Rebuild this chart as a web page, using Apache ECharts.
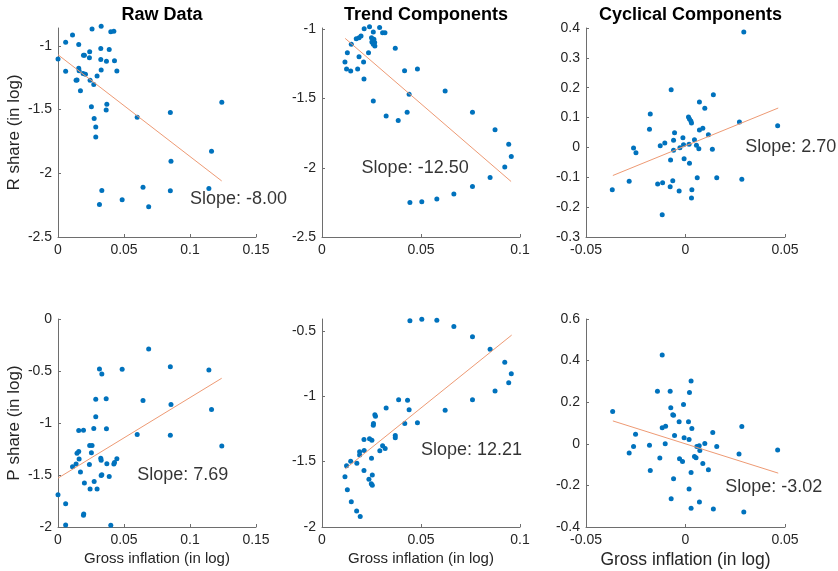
<!DOCTYPE html>
<html><head><meta charset="utf-8">
<script src="https://cdn.jsdelivr.net/npm/echarts@6/dist/echarts.min.js"></script>
<style>html,body{margin:0;padding:0;background:#fff}#c{width:838px;height:571px}</style>
</head><body><div id="c"></div>
<script>
// ---------- DATA ----------
const titles = ['Raw Data', 'Trend Components', 'Cyclical Components'];
const yNames = ['R share (in log)', 'P share (in log)'];
const xName = 'Gross inflation (in log)';

const rawR = [[0,-1.104],[0.0058,-0.971],[0.0058,-1.20],[0.011,-0.914],[0.0157,-0.99],[0.0157,-1.175],[0.016,-1.196],[0.0144,-1.269],[0.0137,-1.27],[0.017,-1.352],[0.0193,-1.073],[0.020,-1.073],[0.019,-1.217],[0.0208,-1.222],[0.024,-1.047],[0.0238,-1.094],[0.0243,-1.27],[0.0258,-0.867],[0.0253,-1.477],[0.0271,-1.303],[0.0274,-1.571],[0.0286,-1.637],[0.0286,-1.715],[0.0296,-1.237],[0.0327,-0.846],[0.0324,-1.021],[0.0324,-1.107],[0.0327,-1.19],[0.0332,-2.135],[0.0314,-2.244],[0.0367,-1.12],[0.037,-1.459],[0.0365,-1.504],[0.0388,-1.029],[0.040,-0.89],[0.0423,-0.885],[0.0428,-1.117],[0.0446,-1.198],[0.0486,-2.208],[0.060,-1.561],[0.0644,-2.109],[0.0687,-2.263],[0.0851,-1.524],[0.0856,-1.905],[0.0851,-2.137],[0.1163,-1.827],[0.1143,-2.119],[0.1241,-1.443]];

const trendR = [[0.0116,-1.236],[0.0124,-1.286],[0.0128,-1.168],[0.0145,-1.300],[0.0148,-1.108],[0.0173,-1.067],[0.0180,-1.286],[0.0187,-1.060],[0.0187,-1.197],[0.0197,-1.048],[0.0210,-1.236],[0.0212,-1.358],[0.0213,-0.995],[0.0235,-1.168],[0.0240,-0.981],[0.0250,-1.060],[0.0262,-1.072],[0.0252,-1.091],[0.0266,-1.094],[0.0259,-1.108],[0.0267,-1.120],[0.0259,-1.019],[0.0259,-1.517],[0.0291,-0.986],[0.0306,-1.024],[0.0318,-1.024],[0.0324,-1.625],[0.0370,-1.137],[0.0385,-1.659],[0.0417,-1.298],[0.0430,-1.599],[0.0440,-1.469],[0.0444,-2.250],[0.0482,-1.286],[0.0504,-2.245],[0.0580,-2.226],[0.0622,-1.445],[0.0666,-2.190],[0.0760,-1.599],[0.0760,-2.135],[0.0849,-2.070],[0.0874,-1.726],[0.0923,-1.995],[0.0943,-1.829],[0.0956,-1.918]];

const cycR = [[-0.0368,-0.1415],[-0.0283,-0.1136],[-0.0261,-0.0019],[-0.0249,-0.0175],[-0.0181,0.0606],[-0.0177,0.112],[-0.0140,-0.1225],[-0.0127,0.0059],[-0.0115,-0.118],[-0.0117,-0.2252],[-0.0104,0.0148],[-0.0077,-0.1314],[-0.0075,-0.0421],[-0.0072,0.1935],[-0.0064,-0.1113],[-0.0060,0.0238],[-0.0060,-0.0097],[-0.0055,0.0494],[-0.0032,-0.146],[-0.0028,-0.0008],[-0.0013,0.0327],[-0.0010,0.0092],[-0.0007,-0.0376],[0.0015,0.1019],[0.0020,0.0952],[0.0027,0.0885],[0.0030,0.0818],[0.0018,0.0103],[0.0020,-0.0533],[0.0030,-0.1694],[0.0032,-0.1415],[0.0045,0.026],[0.0055,0.007],[0.0059,-0.1013],[0.0067,-0.0042],[0.0070,0.0584],[0.0070,0.1521],[0.0087,0.064],[0.0097,0.1309],[0.0115,0.0427],[0.0135,-0.0064],[0.0140,0.1767],[0.0157,-0.1013],[0.0271,0.0852],[0.0283,-0.1069],[0.0293,0.3866],[0.0463,0.0729]];

const rawP = [[0,-1.69],[0.0058,-1.776],[0.0058,-1.98],[0.011,-1.42],[0.0137,-1.395],[0.0144,-1.29],[0.0157,-1.274],[0.0157,-1.072],[0.016,-1.347],[0.017,-1.472],[0.0193,-1.069],[0.0193,-1.888],[0.0195,-1.875],[0.020,-1.578],[0.024,-1.216],[0.0238,-1.398],[0.0243,-1.635],[0.0258,-1.216],[0.0253,-1.286],[0.0271,-1.053],[0.0274,-1.562],[0.0286,-0.771],[0.0286,-0.941],[0.0296,-1.635],[0.0314,-0.48],[0.0332,-0.528],[0.0324,-1.34],[0.0327,-1.357],[0.0327,-1.504],[0.0332,-1.498],[0.0365,-0.768],[0.0367,-1.056],[0.037,-1.392],[0.0388,-1.514],[0.040,-1.984],[0.0423,-1.395],[0.0428,-1.379],[0.0446,-1.344],[0.0486,-0.483],[0.060,-1.11],[0.0644,-0.784],[0.0687,-0.288],[0.0851,-0.458],[0.0856,-0.822],[0.0851,-1.117],[0.1143,-0.49],[0.1163,-0.87],[0.1241,-1.222]];

const trendP = [[0.0116,-1.615],[0.0124,-1.531],[0.0128,-1.716],[0.0145,-1.498],[0.0148,-1.807],[0.0176,-1.513],[0.0175,-1.878],[0.0193,-1.919],[0.0190,-1.425],[0.0190,-1.450],[0.0212,-1.331],[0.0213,-1.415],[0.0212,-1.569],[0.0237,-1.635],[0.0240,-1.326],[0.0252,-1.336],[0.0250,-1.475],[0.0254,-1.602],[0.0249,-1.670],[0.0254,-1.680],[0.0260,-1.209],[0.0259,-1.222],[0.0267,-1.141],[0.0270,-1.154],[0.0292,-1.417],[0.0306,-1.379],[0.0319,-1.399],[0.0324,-1.090],[0.0370,-1.301],[0.0370,-1.318],[0.0387,-1.027],[0.0418,-1.209],[0.0432,-1.032],[0.0440,-1.103],[0.0444,-0.424],[0.0482,-1.204],[0.0504,-0.411],[0.0580,-0.419],[0.0622,-1.108],[0.0666,-0.467],[0.0760,-0.546],[0.0760,-1.027],[0.0849,-0.642],[0.0874,-0.961],[0.0923,-0.741],[0.0943,-0.898],[0.0956,-0.829]];

const cycP = [[-0.0366,0.1552],[-0.0283,-0.0448],[-0.0261,-0.0128],[-0.0251,0.0464],[-0.0181,-0.0064],[-0.0177,-0.128],[-0.0141,0.2528],[-0.0129,-0.0688],[-0.0117,0.4272],[-0.0117,0.0768],[-0.0100,0.0848],[-0.0102,0.0],[-0.0077,0.2528],[-0.0074,0.1728],[-0.0072,-0.264],[-0.0064,0.1392],[-0.0060,0.1376],[-0.0060,-0.168],[-0.0055,0.04],[-0.0032,0.1056],[-0.0030,-0.072],[-0.0015,-0.0848],[-0.0010,0.1888],[-0.0007,0.0288],[0.0015,0.1056],[0.0018,0.0208],[0.0018,-0.2176],[0.0020,0.2464],[0.0028,0.3024],[0.0028,-0.1376],[0.0028,-0.3104],[0.0032,0.0736],[0.0045,-0.0608],[0.0053,-0.0672],[0.0057,-0.0128],[0.0069,-0.0096],[0.0072,-0.032],[0.0070,-0.28],[0.0087,-0.0944],[0.0097,0.0016],[0.0115,-0.1248],[0.0137,0.0544],[0.0140,-0.3136],[0.0157,-0.0128],[0.0269,-0.0496],[0.0283,0.0832],[0.0293,-0.328],[0.0463,-0.0304]];

// fitted lines (endpoints)
const fitRawR   = [[0,-1.07],[0.124,-2.06]];
const fitTrendR = [[0.0117,-1.065],[0.0955,-2.099]];
const fitCycR   = [[-0.0365,-0.094],[0.0466,0.132]];
const fitRawP   = [[0,-1.53],[0.124,-0.57]];
const fitTrendP = [[0.0117,-1.556],[0.0958,-0.533]];
const fitCycP   = [[-0.0365,0.11],[0.0466,-0.141]];

const slopeTexts = ['Slope: -8.00','Slope: -12.50','Slope: 2.70','Slope: 7.69','Slope: 12.21','Slope: -3.02'];

// tick values
const xTicksRaw = [0, 0.05, 0.1, 0.15];
const xTicksTrend = [0, 0.05, 0.1];
const xTicksCyc = [-0.05, 0, 0.05];
const yTicksRawR = [-2.5, -2, -1.5, -1];
const yTicksTrendR = [-2.5, -2, -1.5, -1];
const yTicksCycR = [-0.3, -0.2, -0.1, 0, 0.1, 0.2, 0.3, 0.4];
const yTicksRawP = [-2, -1.5, -1, -0.5, 0];
const yTicksTrendP = [-2, -1.5, -1, -0.5];
const yTicksCycP = [-0.4, -0.2, 0, 0.2, 0.4, 0.6];

// ---------- LAYOUT ----------
const panels = [
  {pts: rawR, fit: fitRawR, xt: xTicksRaw, yt: yTicksRawR, xr:[0,0.15], yr:[-2.5,-0.86], grid:{left:58,top:28,width:198,height:209}, anchor:[0.1,-2.2], title: titles[0], yName: yNames[0]},
  {pts: trendR, fit: fitTrendR, xt: xTicksTrend, yt: yTicksTrendR, xr:[0,0.1], yr:[-2.5,-0.99], grid:{left:322,top:28,width:198,height:209}, anchor:[0.02,-2.0], title: titles[1]},
  {pts: cycR, fit: fitCycR, xt: xTicksCyc, yt: yTicksCycR, xr:[-0.05,0.05], yr:[-0.3,0.4], grid:{left:586,top:28,width:199,height:209}, anchor:[0.03,0.0], title: titles[2]},
  {pts: rawP, fit: fitRawP, xt: xTicksRaw, yt: yTicksRawP, xr:[0,0.15], yr:[-2,0], grid:{left:58,top:319,width:198,height:208}, anchor:[0.06,-1.5], yName: yNames[1], xName: xName, xFont: 15},
  {pts: trendP, fit: fitTrendP, xt: xTicksTrend, yt: yTicksTrendP, xr:[0,0.1], yr:[-2,-0.41], grid:{left:322,top:319,width:198,height:208}, anchor:[0.05,-1.41], xName: xName, xFont: 15},
  {pts: cycP, fit: fitCycP, xt: xTicksCyc, yt: yTicksCycP, xr:[-0.05,0.05], yr:[-0.4,0.6], grid:{left:586,top:319,width:199,height:208}, anchor:[0.02,-0.21], xName: xName, xFont: 17.5}
];

const FONT = '"Liberation Sans", Arial, Helvetica, sans-serif';
const axisColor = '#6e6e6e';
const txtColor = '#262626';

const option = {
  animation: false,
  backgroundColor: '#fff',
  textStyle: {fontFamily: FONT},
  title: [], grid: [], xAxis: [], yAxis: [], series: []
};

panels.forEach((p, i) => {
  option.grid.push(p.grid);
  if (p.title) {
    option.title.push({
      text: p.title, left: p.grid.left + p.grid.width / 2, top: 1, textAlign: 'center',
      textStyle: {fontFamily: FONT, fontSize: 18, fontWeight: 'bold', color: '#000'}
    });
  }
  option.xAxis.push({
    type: 'value', gridIndex: i, min: p.xr[0], max: p.xr[1],
    name: p.xName || '', nameLocation: 'middle', nameGap: 24,
    nameTextStyle: {fontFamily: FONT, fontSize: p.xFont || 15, color: txtColor},
    axisLine: {show: true, onZero: false, lineStyle: {color: axisColor, width: 1}},
    axisTick: {show: true, inside: true, length: 3, customValues: p.xt, lineStyle: {color: axisColor}},
    axisLabel: {customValues: p.xt, margin: 6, fontFamily: FONT, fontSize: 14, color: txtColor},
    splitLine: {show: false}
  });
  option.yAxis.push({
    type: 'value', gridIndex: i, min: p.yr[0], max: p.yr[1],
    name: p.yName || '', nameLocation: 'middle', nameGap: 35,
    nameTextStyle: {fontFamily: FONT, fontSize: 17, color: txtColor},
    axisLine: {show: true, onZero: false, lineStyle: {color: axisColor, width: 1}},
    axisTick: {show: true, inside: true, length: 3, customValues: p.yt, lineStyle: {color: axisColor}},
    axisLabel: {customValues: p.yt, margin: 6, fontFamily: FONT, fontSize: 14, color: txtColor},
    splitLine: {show: false}
  });
  option.series.push({
    type: 'scatter', xAxisIndex: i, yAxisIndex: i, data: p.pts, symbolSize: 5,
    clip: false, itemStyle: {color: '#0072BD', opacity: 1}, z: 2
  });
  option.series.push({
    type: 'line', xAxisIndex: i, yAxisIndex: i, data: p.fit, showSymbol: false, symbol: 'none',
    lineStyle: {color: '#EE9A74', width: 1}, z: 3, silent: true
  });
  option.series.push({
    type: 'scatter', xAxisIndex: i, yAxisIndex: i, data: [p.anchor], symbolSize: 0, silent: true, clip: false,
    label: {show: true, position: 'right', distance: 0, formatter: slopeTexts[i],
      fontFamily: FONT, fontSize: 18, color: '#000'}, z: 4
  });
});

const chart = echarts.init(document.getElementById('c'), null, {renderer: 'canvas'});
chart.setOption(option);
</script>
</body></html>
